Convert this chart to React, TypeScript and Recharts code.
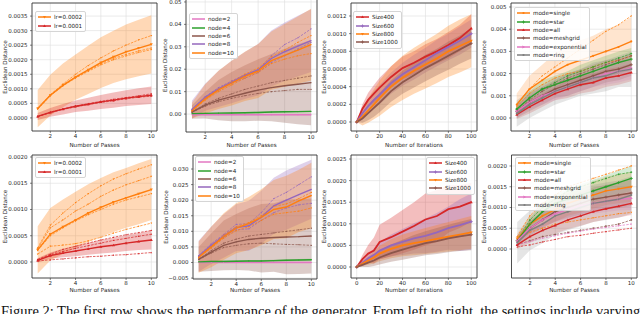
import React from 'react';
import { ComposedChart, Line, Area, XAxis, YAxis, CartesianGrid, Legend, ReferenceArea } from 'recharts';

const FONT = '"DejaVu Sans", sans-serif';

const passes = [1, 2, 3, 4, 5, 6, 7, 8, 9, 10];
const iterations = [0, 5, 10, 15, 20, 30, 40, 50, 60, 70, 80, 90, 100];
const passTicks = [2, 4, 6, 8, 10];
const iterTicks = [0, 20, 40, 60, 80, 100];

// ---- row 1 ----
const lrTopHighMean = [0.00032, 0.00078, 0.00112, 0.0014, 0.00165, 0.0019, 0.0021, 0.00227, 0.0024, 0.00253];
const lrTopHighSpread = [0.00064, 0.0007, 0.00075, 0.00078, 0.00083, 0.00087, 0.0009, 0.00094, 0.00097, 0.001];
const lrTopHighRuns = [
  [0.00033, 0.0008, 0.00116, 0.0015, 0.0018, 0.00206, 0.0023, 0.0025, 0.00268, 0.00283],
  [0.0003, 0.00076, 0.0011, 0.00137, 0.0016, 0.00182, 0.002, 0.00213, 0.00225, 0.00235],
  [0.00031, 0.00077, 0.00113, 0.0014, 0.00163, 0.00186, 0.00205, 0.00218, 0.0023, 0.0024],
];
const lrTopLowMean = [0.00005, 0.00019, 0.0003, 0.0004, 0.00047, 0.00055, 0.00061, 0.00068, 0.00073, 0.00078];
const lrTopLowSpread = [0.00012, 0.00015, 0.00018, 0.0002, 0.00022, 0.00024, 0.00026, 0.00027, 0.00029, 0.0003];
const lrTopLowRuns = [
  [0.00005, 0.0002, 0.00031, 0.00041, 0.00049, 0.00057, 0.00064, 0.0007, 0.00076, 0.00083],
  [0.00004, 0.00018, 0.00029, 0.00038, 0.00046, 0.00053, 0.00059, 0.00066, 0.00071, 0.00075],
];

const node2TopMean = [-0.0003, -0.0003, -0.0003, -0.0003, -0.0003, -0.0003, -0.0003, -0.0003, -0.0003, -0.0003];
const node2TopSpread = [0.0002, 0.0002, 0.0002, 0.0002, 0.0002, 0.0002, 0.0002, 0.0002, 0.0002, 0.0002];
const node4TopMean = [0.0002, 0.0003, 0.0004, 0.0005, 0.0006, 0.0007, 0.0009, 0.001, 0.0011, 0.0012];
const node4TopSpread = [0.0003, 0.0003, 0.0003, 0.0003, 0.0003, 0.0003, 0.0003, 0.0003, 0.0003, 0.0003];
const node6TopMean = [0.0009, 0.004, 0.0062, 0.0078, 0.0093, 0.0107, 0.0118, 0.0126, 0.0133, 0.014];
const node6TopSpread = [0.003, 0.006, 0.009, 0.011, 0.0125, 0.0137, 0.015, 0.0165, 0.0178, 0.019];
const node6TopRuns = [
  [0.001, 0.0045, 0.007, 0.009, 0.011, 0.0125, 0.014, 0.015, 0.016, 0.017],
  [0.0008, 0.0035, 0.0055, 0.007, 0.0082, 0.0092, 0.01, 0.0105, 0.011, 0.011],
];
const node8TopMean = [0.002, 0.0075, 0.0112, 0.0143, 0.0172, 0.0198, 0.0248, 0.0278, 0.0303, 0.0328];
const node8TopSpread = [0.004, 0.006, 0.008, 0.0095, 0.0105, 0.0115, 0.0125, 0.013, 0.0135, 0.014];
const node8TopRuns = [
  [0.0022, 0.0078, 0.0118, 0.0148, 0.0175, 0.0195, 0.026, 0.031, 0.034, 0.038],
  [0.0019, 0.007, 0.0108, 0.0138, 0.016, 0.0185, 0.023, 0.026, 0.029, 0.032],
];
const node10TopMean = [0.0015, 0.0068, 0.0108, 0.0138, 0.0168, 0.0192, 0.0238, 0.0262, 0.0285, 0.031];
const node10TopSpread = [0.0035, 0.0065, 0.0085, 0.01, 0.011, 0.012, 0.013, 0.014, 0.015, 0.016];
const node10TopRuns = [
  [0.0016, 0.0072, 0.0112, 0.0145, 0.0178, 0.0205, 0.0255, 0.0285, 0.032, 0.035],
  [0.0013, 0.0062, 0.01, 0.013, 0.016, 0.0185, 0.0225, 0.0245, 0.026, 0.027],
];

const size400TopMean = [0, 0.00015, 0.00025, 0.00032, 0.00039, 0.00051, 0.00061, 0.00067, 0.00074, 0.0008, 0.00087, 0.00095, 0.00106];
const size400TopSpread = [0, 0.00005, 0.00008, 0.0001, 0.00011, 0.00012, 0.00013, 0.00013, 0.00014, 0.00014, 0.00015, 0.00015, 0.00016];
const size600TopMean = [0, 0.0001, 0.00018, 0.00025, 0.00031, 0.00044, 0.00054, 0.00062, 0.0007, 0.00078, 0.00085, 0.00092, 0.001];
const size600TopSpread = [0, 0.00005, 0.00008, 0.0001, 0.00011, 0.00012, 0.00013, 0.00014, 0.00014, 0.00015, 0.00015, 0.00016, 0.00016];
const size800TopMean = [0, 0.00006, 0.00013, 0.0002, 0.00027, 0.0004, 0.0005, 0.00058, 0.00065, 0.00072, 0.0008, 0.00086, 0.00092];
const size800TopSpread = [0, 0.0001, 0.00014, 0.00017, 0.0002, 0.00023, 0.00025, 0.00026, 0.00027, 0.00028, 0.00029, 0.0003, 0.0003];
const size1000TopMean = [0, 0.00004, 0.0001, 0.00016, 0.00022, 0.00035, 0.00045, 0.00053, 0.00061, 0.00068, 0.00075, 0.00082, 0.00089];
const size1000TopSpread = [0, 0.00005, 0.00008, 0.0001, 0.00011, 0.00012, 0.00013, 0.00014, 0.00015, 0.00015, 0.00016, 0.00016, 0.00017];

const singleTopMean = [0.0006, 0.0013, 0.0017, 0.0021, 0.0024, 0.0026, 0.0028, 0.003, 0.0032, 0.00345];
const singleTopSpread = [0.0005, 0.0006, 0.0007, 0.0008, 0.0008, 0.0009, 0.0009, 0.001, 0.001, 0.0011];
const singleTopRuns = [
  [0.0006, 0.0013, 0.0019, 0.0023, 0.0027, 0.0031, 0.0035, 0.0039, 0.0042, 0.0046],
  [0.0005, 0.0011, 0.0015, 0.0018, 0.002, 0.0021, 0.0023, 0.0025, 0.0026, 0.0028],
];
const starTopMean = [0.0004, 0.0009, 0.0013, 0.0015, 0.0017, 0.0019, 0.0021, 0.0023, 0.0025, 0.00265];
const starTopSpread = [0.0003, 0.0003, 0.0004, 0.0004, 0.0004, 0.0005, 0.0005, 0.0005, 0.0005, 0.0005];
const starTopRuns = [[0.0004, 0.0009, 0.0013, 0.0016, 0.0019, 0.0021, 0.0023, 0.0025, 0.0027, 0.0029]];
const allTopMean = [0.00015, 0.0005, 0.0008, 0.0011, 0.0013, 0.0015, 0.0016, 0.0018, 0.0019, 0.00205];
const allTopSpread = [0.0002, 0.0003, 0.0003, 0.0003, 0.0004, 0.0004, 0.0004, 0.0004, 0.0004, 0.0004];
const meshTopMean = [0.0003, 0.0007, 0.001, 0.0013, 0.0015, 0.0017, 0.0019, 0.0021, 0.0022, 0.0024];
const meshTopSpread = [0.0003, 0.0004, 0.0004, 0.0004, 0.0005, 0.0005, 0.0005, 0.0005, 0.0005, 0.0005];
const meshTopRuns = [[0.0003, 0.0008, 0.0012, 0.0015, 0.0018, 0.002, 0.0022, 0.0024, 0.0026, 0.0028]];
const expTopMean = [0.0003, 0.0007, 0.001, 0.0012, 0.0014, 0.0016, 0.0018, 0.002, 0.0021, 0.00225];
const expTopSpread = [0.0003, 0.0003, 0.0004, 0.0004, 0.0004, 0.0004, 0.0004, 0.0005, 0.0005, 0.0005];
const ringTopMean = [0.0002, 0.0006, 0.0009, 0.0012, 0.0014, 0.0016, 0.0018, 0.0019, 0.0021, 0.0022];
const ringTopSpread = [0.0006, 0.0006, 0.0006, 0.0006, 0.0006, 0.0006, 0.0007, 0.0007, 0.0007, 0.0008];

// ---- row 2 ----
const lrBotHighMean = [0.00023, 0.00053, 0.00067, 0.0008, 0.00093, 0.00104, 0.00114, 0.00122, 0.0013, 0.00138];
const lrBotHighSpread = [0.00045, 0.0005, 0.00052, 0.00054, 0.00055, 0.00056, 0.00057, 0.00057, 0.00058, 0.00058];
const lrBotHighRuns = [
  [0.00027, 0.0007, 0.00093, 0.00113, 0.0013, 0.00145, 0.00158, 0.00168, 0.00177, 0.00185],
  [0.00025, 0.00065, 0.0008, 0.00097, 0.0011, 0.00125, 0.00137, 0.00147, 0.00155, 0.00163],
  [0.00022, 0.0005, 0.00065, 0.00078, 0.0009, 0.001, 0.0011, 0.00118, 0.00124, 0.0013],
  [0.00015, 0.0003, 0.00032, 0.00035, 0.0004, 0.00047, 0.00055, 0.00062, 0.00068, 0.00074],
];
const lrBotLowMean = [0.00003, 0.00012, 0.00017, 0.00021, 0.00025, 0.00029, 0.00032, 0.00036, 0.00039, 0.00042];
const lrBotLowSpread = [0.00004, 0.00006, 0.00008, 0.0001, 0.00011, 0.00013, 0.00014, 0.00015, 0.00016, 0.00018];
const lrBotLowRuns = [
  [0.00005, 0.00015, 0.00024, 0.0003, 0.00036, 0.00042, 0.00047, 0.00052, 0.00056, 0.0006],
  [0.00004, 0.00013, 0.0002, 0.00026, 0.00031, 0.00036, 0.00041, 0.00045, 0.00049, 0.00053],
  [0.00002, 0.00004, 0.00006, 0.00008, 0.0001, 0.00011, 0.00013, 0.00014, 0.00016, 0.00018],
];

const node2BotMean = [0, 0, 0, 0, 0, 0, 0, 0, 0, 0];
const node2BotSpread = [0.0002, 0.0002, 0.0002, 0.0002, 0.0002, 0.0002, 0.0002, 0.0002, 0.0002, 0.0002];
const node4BotMean = [0.0002, 0.0003, 0.0003, 0.0004, 0.0005, 0.0005, 0.0006, 0.0007, 0.0008, 0.0009];
const node4BotSpread = [0.0003, 0.0003, 0.0003, 0.0003, 0.0003, 0.0003, 0.0003, 0.0003, 0.0003, 0.0003];
const node6BotMean = [0.001, 0.0033, 0.0055, 0.0066, 0.0074, 0.0078, 0.008, 0.0082, 0.0083, 0.0085];
const node6BotSpread = [0.004, 0.006, 0.008, 0.009, 0.01, 0.011, 0.011, 0.012, 0.012, 0.012];
const node6BotRuns = [
  [0.0011, 0.0038, 0.0062, 0.0075, 0.0085, 0.009, 0.0095, 0.01, 0.0105, 0.011],
  [0.0009, 0.003, 0.0048, 0.0055, 0.006, 0.0062, 0.006, 0.0058, 0.0057, 0.0055],
];
const node8BotMean = [0.002, 0.0055, 0.0085, 0.0112, 0.0118, 0.0145, 0.0182, 0.02, 0.0218, 0.0235];
const node8BotSpread = [0.005, 0.006, 0.007, 0.0075, 0.008, 0.0085, 0.009, 0.0095, 0.0095, 0.0095];
const node8BotRuns = [
  [0.0022, 0.006, 0.009, 0.0122, 0.0125, 0.016, 0.0205, 0.0225, 0.025, 0.0275],
  [0.0018, 0.005, 0.008, 0.0105, 0.0108, 0.0135, 0.016, 0.0175, 0.0185, 0.019],
];
const node10BotMean = [0.0017, 0.005, 0.0083, 0.011, 0.0125, 0.0145, 0.017, 0.0178, 0.0198, 0.0215];
const node10BotSpread = [0.005, 0.0065, 0.0075, 0.008, 0.0085, 0.009, 0.0095, 0.01, 0.01, 0.0105];
const node10BotRuns = [
  [0.0018, 0.0052, 0.0088, 0.0115, 0.0128, 0.015, 0.018, 0.0188, 0.0205, 0.0225],
  [0.0015, 0.0046, 0.0078, 0.0102, 0.0115, 0.0135, 0.0155, 0.016, 0.0165, 0.0175],
];

const size400BotMean = [0, 0.00018, 0.00031, 0.00038, 0.00058, 0.00069, 0.00082, 0.00095, 0.0011, 0.00118, 0.00134, 0.0014, 0.0015];
const size400BotSpread = [0, 0.0001, 0.0002, 0.0003, 0.0004, 0.00045, 0.0005, 0.00055, 0.0006, 0.0006, 0.00055, 0.0005, 0.00045];
const size600BotMean = [0, 0.0001, 0.0002, 0.00028, 0.00038, 0.0005, 0.00058, 0.00066, 0.00072, 0.0008, 0.0009, 0.00097, 0.00105];
const size600BotSpread = [0, 0.00005, 0.0001, 0.00015, 0.0002, 0.00025, 0.0003, 0.00035, 0.0004, 0.00045, 0.0005, 0.0006, 0.00065];
const size800BotMean = [0, 0.00008, 0.00015, 0.00022, 0.00031, 0.00042, 0.0005, 0.00055, 0.0006, 0.00065, 0.0007, 0.00075, 0.0008];
const size800BotSpread = [0, 0.00006, 0.0001, 0.00014, 0.00018, 0.00022, 0.00025, 0.00028, 0.0003, 0.00032, 0.00034, 0.00036, 0.00038];
const size1000BotMean = [0, 0.00005, 0.0001, 0.00015, 0.00022, 0.00032, 0.0004, 0.00048, 0.00055, 0.0006, 0.00066, 0.00071, 0.00075];
const size1000BotSpread = [0, 0.00005, 0.0001, 0.00013, 0.00016, 0.0002, 0.00023, 0.00026, 0.00028, 0.0003, 0.00032, 0.00034, 0.00036];

const singleBotMean = [0.00025, 0.0006, 0.0008, 0.00095, 0.0011, 0.0012, 0.0013, 0.0014, 0.00145, 0.0015];
const singleBotSpread = [0.00012, 0.0002, 0.00025, 0.0003, 0.0003, 0.00032, 0.00033, 0.00034, 0.00035, 0.00036];
const singleBotRuns = [
  [0.0003, 0.0008, 0.0011, 0.0013, 0.0015, 0.0016, 0.0017, 0.0018, 0.0019, 0.002],
  [0.0002, 0.0004, 0.0005, 0.0006, 0.00065, 0.0007, 0.00075, 0.0008, 0.00085, 0.00088],
];
const starBotMean = [0.0002, 0.0006, 0.0009, 0.0011, 0.0012, 0.0013, 0.0014, 0.0015, 0.0016, 0.0017];
const starBotSpread = [0.0001, 0.00015, 0.0002, 0.00022, 0.00024, 0.00026, 0.00027, 0.00028, 0.00029, 0.0003];
const starBotRuns = [[0.0002, 0.0007, 0.001, 0.0012, 0.0014, 0.0015, 0.0016, 0.0017, 0.0018, 0.00185]];
const allBotMean = [0.0001, 0.0003, 0.00045, 0.00057, 0.0007, 0.0008, 0.0009, 0.00097, 0.00103, 0.0011];
const allBotSpread = [0.0001, 0.00015, 0.00018, 0.0002, 0.00022, 0.00024, 0.00025, 0.00026, 0.00027, 0.00028];
const allBotRuns = [[0.00005, 0.0001, 0.00017, 0.00023, 0.0003, 0.00033, 0.00038, 0.00042, 0.00046, 0.0005]];
const meshBotMean = [0.0002, 0.0005, 0.0007, 0.0009, 0.001, 0.0011, 0.0012, 0.00125, 0.0013, 0.00135];
const meshBotSpread = [0.00012, 0.00018, 0.0002, 0.00023, 0.00025, 0.00027, 0.00028, 0.0003, 0.00031, 0.00032];
const meshBotRuns = [[0.0001, 0.0002, 0.0003, 0.00035, 0.0004, 0.00045, 0.0005, 0.00055, 0.0006, 0.0007]];
const expBotMean = [0.0002, 0.0005, 0.0007, 0.00085, 0.00095, 0.00105, 0.0011, 0.00115, 0.0012, 0.00122];
const expBotSpread = [0.0001, 0.00015, 0.00018, 0.0002, 0.00022, 0.00024, 0.00025, 0.00026, 0.00027, 0.00028];
const expBotRuns = [[0.0001, 0.00018, 0.00026, 0.00032, 0.00038, 0.00043, 0.00048, 0.00052, 0.00056, 0.0006]];
const ringBotMean = [0.00015, 0.00045, 0.0006, 0.0008, 0.0009, 0.001, 0.0011, 0.00115, 0.0012, 0.0013];
const ringBotSpread = [0.0005, 0.00048, 0.00046, 0.00045, 0.00045, 0.00045, 0.00045, 0.00045, 0.00045, 0.00045];

const lrTicksTop = [0, 0.0005, 0.001, 0.0015, 0.002, 0.0025, 0.003, 0.0035];
const nodeTicksTop = [0, 0.01, 0.02, 0.03, 0.04, 0.05];
const sizeTicksTop = [0, 0.0002, 0.0004, 0.0006, 0.0008, 0.001, 0.0012];
const modeTicksTop = [0, 0.001, 0.002, 0.003, 0.004, 0.005];
const lrTicksBot = [0, 0.0005, 0.001, 0.0015, 0.002];
const nodeTicksBot = [-0.005, 0, 0.005, 0.01, 0.015, 0.02, 0.025, 0.03];
const sizeTicksBot = [0, 0.0005, 0.001, 0.0015, 0.002, 0.0025];
const modeTicksBot = [0, 0.0005, 0.001, 0.0015, 0.002];

const caption = 'Figure 2: The first row shows the performance of the generator. From left to right, the settings include varying';

const ORANGE = '#ff7f0e';
const RED = '#d62728';
const GREEN = '#2ca02c';
const BROWN = '#8c564b';
const PURPLE = '#9467bd';
const PINK = '#e377c2';
const GRAY = '#7f7f7f';

type Series = { name: string; color: string; marker: string; mean: number[]; spread: number[]; runs?: number[][] };
type PanelCfg = {
  left: number; top: number; width: number; height: number;
  frame: { l: number; r: number; t: number; b: number };
  x: number[]; xDomain: [number, number]; xTicks: number[]; xLabel: string; xLabelY: number;
  yDomain: [number, number]; yTicks: number[]; digits: number; yLabelX: number;
  legend: { x: number; y: number }; series: Series[]; ends?: boolean; bandOpacity: number; lineMarker?: boolean;
};

function marker(shape: string, cx: number, cy: number, s: number, color: string, key: string) {
  switch (shape) {
    case 'v':
      return <polygon key={key} points={`${cx - s},${cy - s * 0.7} ${cx + s},${cy - s * 0.7} ${cx},${cy + s}`} fill={color} />;
    case '^':
      return <polygon key={key} points={`${cx - s},${cy + s * 0.7} ${cx + s},${cy + s * 0.7} ${cx},${cy - s}`} fill={color} />;
    case '>':
      return <polygon key={key} points={`${cx - s * 0.7},${cy - s} ${cx - s * 0.7},${cy + s} ${cx + s},${cy}`} fill={color} />;
    case '+':
      return <path key={key} d={`M${cx - s},${cy}H${cx + s}M${cx},${cy - s}V${cy + s}`} stroke={color} strokeWidth={0.8} />;
    case 'none':
      return <g key={key} />;
    default:
      return <circle key={key} cx={cx} cy={cy} r={s * 0.7} fill={color} />;
  }
}

const dotFn = (shape: string, color: string, s: number, ends: boolean, n: number) => (props: any) => {
  const { cx, cy, index } = props;
  if (cx == null || cy == null || (ends && index !== 0 && index !== n - 1)) return <g key={`e${index}`} />;
  return marker(shape, cx, cy, s, color, `d${index}`);
};

function LegendBox({ series, showMarker }: { series: Series[]; showMarker: boolean }) {
  return (
    <div
      style={{
        background: 'rgba(255,255,255,0.85)',
        border: '0.8px solid #d5d5d5',
        borderRadius: 2,
        padding: '1px 3px 1px 2px',
        fontFamily: FONT,
        fontSize: 5.6,
        color: '#222',
      }}
    >
      {series.map((s) => (
        <div key={s.name} style={{ display: 'flex', alignItems: 'center', height: 8.4, whiteSpace: 'nowrap' }}>
          <svg width={13} height={6} style={{ display: 'block' }}>
            <line x1={0} y1={3} x2={13} y2={3} stroke={s.color} strokeWidth={1.5} />
            {showMarker ? marker(s.marker, 6.5, 3, 1.6, s.color, 'm') : null}
          </svg>
          <span style={{ marginLeft: 3 }}>{s.name}</span>
        </div>
      ))}
    </div>
  );
}

function Panel({ p }: { p: PanelCfg }) {
  const yW = p.frame.l - p.left;
  const xH = p.top + p.height - p.frame.b;
  const margin = { top: p.frame.t - p.top, right: p.left + p.width - p.frame.r, bottom: 0, left: 0 };
  const rows = p.x.map((xv, i) => {
    const row: any = { x: xv };
    p.series.forEach((s, k) => {
      row['m' + k] = s.mean[i];
      row['b' + k] = [s.mean[i] - s.spread[i], s.mean[i] + s.spread[i]];
      (s.runs || []).forEach((r, j) => {
        row[`r${k}_${j}`] = r[i];
      });
    });
    return row;
  });
  const xMid = (p.frame.l + p.frame.r) / 2 - p.left;
  const yMid = (p.frame.t + p.frame.b) / 2 - p.top;
  const yLx = p.yLabelX - p.left;
  const fmt = (v: number) => (v < 0 ? '\u2212' : '') + Math.abs(v).toFixed(p.digits);
  const tickStyle = { fontSize: 5.5, fill: '#262626', fontFamily: FONT };
  const n = p.x.length;
  const mk = p.lineMarker !== false;

  return (
    <div style={{ position: 'absolute', left: p.left, top: p.top, width: p.width, height: p.height }}>
      <ComposedChart width={p.width} height={p.height} data={rows} margin={margin}>
        <CartesianGrid stroke="#dedede" strokeWidth={0.6} />
        <XAxis
          dataKey="x"
          type="number"
          domain={p.xDomain}
          ticks={p.xTicks}
          interval={0}
          allowDataOverflow
          height={xH}
          axisLine={false}
          tickSize={2}
          tickMargin={1.5}
          tickLine={{ stroke: '#333', strokeWidth: 0.6 }}
          tick={tickStyle}
          label={() => (
            <text x={xMid} y={p.xLabelY - p.top} textAnchor="middle" fontSize={5.6} fontFamily={FONT} fill="#262626">
              {p.xLabel}
            </text>
          )}
        />
        <YAxis
          type="number"
          domain={p.yDomain}
          ticks={p.yTicks}
          interval={0}
          allowDataOverflow
          width={yW}
          axisLine={false}
          tickSize={2}
          tickMargin={2.5}
          tickLine={{ stroke: '#333', strokeWidth: 0.6 }}
          tick={tickStyle}
          tickFormatter={fmt}
          label={() => (
            <text
              x={yLx}
              y={yMid}
              transform={`rotate(-90 ${yLx} ${yMid})`}
              textAnchor="middle"
              dominantBaseline="central"
              fontSize={5.6}
              fontFamily={FONT}
              fill="#262626"
            >
              Euclidean Distance
            </text>
          )}
        />
        {p.series.map((s, k) => (
          <Area
            key={'b' + k}
            dataKey={'b' + k}
            type="linear"
            stroke="none"
            fill={s.color}
            fillOpacity={p.bandOpacity}
            isAnimationActive={false}
            dot={false}
            activeDot={false}
          />
        ))}
        {p.series.map((s, k) =>
          (s.runs || []).map((_, j) => (
            <Line
              key={`r${k}_${j}`}
              dataKey={`r${k}_${j}`}
              type="linear"
              stroke={s.color}
              strokeWidth={0.7}
              strokeDasharray="2.5 1.2"
              dot={dotFn(mk ? s.marker : '.', s.color, 0.9, false, n)}
              activeDot={false}
              isAnimationActive={false}
            />
          ))
        )}
        {p.series.map((s, k) => (
          <Line
            key={'m' + k}
            dataKey={'m' + k}
            type="linear"
            stroke={s.color}
            strokeWidth={p.ends ? 1.8 : 1.4}
            dot={dotFn(mk ? s.marker : '.', s.color, mk ? 1.5 : 0.8, !!p.ends, n)}
            activeDot={false}
            isAnimationActive={false}
          />
        ))}
        <ReferenceArea
          x1={p.xDomain[0]}
          x2={p.xDomain[1]}
          y1={p.yDomain[0]}
          y2={p.yDomain[1]}
          fill="none"
          fillOpacity={0}
          stroke="#262626"
          strokeWidth={0.8}
          ifOverflow="visible"
        />
        <Legend
          layout="vertical"
          align="center"
          verticalAlign="middle"
          wrapperStyle={{ left: p.legend.x - p.left, top: p.legend.y - p.top, width: 'auto' }}
          content={() => <LegendBox series={p.series} showMarker={mk} />}
        />
      </ComposedChart>
    </div>
  );
}

const ROW1 = -10;
const ROW2 = 145;

const panels: PanelCfg[] = [
  {
    left: 0, top: ROW1, width: 160, height: 160,
    frame: { l: 32, r: 157, t: 3, b: 131 },
    x: passes, xDomain: [0.55, 10.45], xTicks: passTicks, xLabel: 'Number of Passes', xLabelY: 147,
    yDomain: [-0.00045, 0.00395], yTicks: lrTicksTop, digits: 4, yLabelX: 5,
    legend: { x: 35, y: 11 }, bandOpacity: 0.3,
    series: [
      { name: 'lr=0.0002', color: ORANGE, marker: 'v', mean: lrTopHighMean, spread: lrTopHighSpread, runs: lrTopHighRuns },
      { name: 'lr=0.0001', color: RED, marker: '^', mean: lrTopLowMean, spread: lrTopLowSpread, runs: lrTopLowRuns },
    ],
  },
  {
    left: 160, top: ROW1, width: 160, height: 160,
    frame: { l: 186, r: 317, t: -1.4, b: 132 },
    x: passes, xDomain: [0.55, 10.45], xTicks: passTicks, xLabel: 'Number of Passes', xLabelY: 147,
    yDomain: [-0.008, 0.0515], yTicks: nodeTicksTop, digits: 2, yLabelX: 165,
    legend: { x: 189, y: 13 }, bandOpacity: 0.3, lineMarker: false,
    series: [
      { name: 'node=2', color: PINK, marker: '.', mean: node2TopMean, spread: node2TopSpread },
      { name: 'node=4', color: GREEN, marker: '.', mean: node4TopMean, spread: node4TopSpread },
      { name: 'node=6', color: BROWN, marker: '.', mean: node6TopMean, spread: node6TopSpread, runs: node6TopRuns },
      { name: 'node=8', color: PURPLE, marker: '.', mean: node8TopMean, spread: node8TopSpread, runs: node8TopRuns },
      { name: 'node=10', color: ORANGE, marker: '.', mean: node10TopMean, spread: node10TopSpread, runs: node10TopRuns },
    ],
  },
  {
    left: 320, top: ROW1, width: 160, height: 160,
    frame: { l: 351, r: 477, t: 3, b: 131 },
    x: iterations, xDomain: [-5, 105], xTicks: iterTicks, xLabel: 'Number of Iterations', xLabelY: 147,
    yDomain: [-0.000102, 0.001347], yTicks: sizeTicksTop, digits: 4, yLabelX: 324,
    legend: { x: 353, y: 11 }, bandOpacity: 0.3, ends: true,
    series: [
      { name: 'Size400', color: RED, marker: '^', mean: size400TopMean, spread: size400TopSpread },
      { name: 'Size600', color: PURPLE, marker: '+', mean: size600TopMean, spread: size600TopSpread },
      { name: 'Size800', color: ORANGE, marker: 'v', mean: size800TopMean, spread: size800TopSpread },
      { name: 'Size1000', color: BROWN, marker: '+', mean: size1000TopMean, spread: size1000TopSpread },
    ],
  },
  {
    left: 480, top: ROW1, width: 160, height: 160,
    frame: { l: 511, r: 637, t: 3, b: 131 },
    x: passes, xDomain: [0.55, 10.45], xTicks: passTicks, xLabel: 'Number of Passes', xLabelY: 147,
    yDomain: [-0.000586, 0.00518], yTicks: modeTicksTop, digits: 3, yLabelX: 484,
    legend: { x: 514, y: 7 }, bandOpacity: 0.2,
    series: [
      { name: 'mode=single', color: ORANGE, marker: '.', mean: singleTopMean, spread: singleTopSpread, runs: singleTopRuns },
      { name: 'mode=star', color: GREEN, marker: '+', mean: starTopMean, spread: starTopSpread, runs: starTopRuns },
      { name: 'mode=all', color: RED, marker: '^', mean: allTopMean, spread: allTopSpread },
      { name: 'mode=meshgrid', color: BROWN, marker: '+', mean: meshTopMean, spread: meshTopSpread, runs: meshTopRuns },
      { name: 'mode=exponential', color: PINK, marker: '>', mean: expTopMean, spread: expTopSpread },
      { name: 'mode=ring', color: GRAY, marker: '.', mean: ringTopMean, spread: ringTopSpread },
    ],
  },
  {
    left: 0, top: ROW2, width: 160, height: 155,
    frame: { l: 32, r: 157, t: 155, b: 278 },
    x: passes, xDomain: [0.55, 10.45], xTicks: passTicks, xLabel: 'Number of Passes', xLabelY: 292,
    yDomain: [-0.000305, 0.002038], yTicks: lrTicksBot, digits: 4, yLabelX: 5,
    legend: { x: 35, y: 157 }, bandOpacity: 0.3,
    series: [
      { name: 'lr=0.0002', color: ORANGE, marker: 'v', mean: lrBotHighMean, spread: lrBotHighSpread, runs: lrBotHighRuns },
      { name: 'lr=0.0001', color: RED, marker: '^', mean: lrBotLowMean, spread: lrBotLowSpread, runs: lrBotLowRuns },
    ],
  },
  {
    left: 160, top: ROW2, width: 160, height: 155,
    frame: { l: 193, r: 317, t: 155, b: 279 },
    x: passes, xDomain: [0.55, 10.45], xTicks: passTicks, xLabel: 'Number of Passes', xLabelY: 292,
    yDomain: [-0.0053, 0.0345], yTicks: nodeTicksBot, digits: 3, yLabelX: 166,
    legend: { x: 195, y: 156 }, bandOpacity: 0.3, lineMarker: false,
    series: [
      { name: 'node=2', color: PINK, marker: '.', mean: node2BotMean, spread: node2BotSpread },
      { name: 'node=4', color: GREEN, marker: '.', mean: node4BotMean, spread: node4BotSpread },
      { name: 'node=6', color: BROWN, marker: '.', mean: node6BotMean, spread: node6BotSpread, runs: node6BotRuns },
      { name: 'node=8', color: PURPLE, marker: '.', mean: node8BotMean, spread: node8BotSpread, runs: node8BotRuns },
      { name: 'node=10', color: ORANGE, marker: '.', mean: node10BotMean, spread: node10BotSpread, runs: node10BotRuns },
    ],
  },
  {
    left: 320, top: ROW2, width: 160, height: 155,
    frame: { l: 351, r: 477, t: 155, b: 278 },
    x: iterations, xDomain: [-5, 105], xTicks: iterTicks, xLabel: 'Number of Iterations', xLabelY: 292,
    yDomain: [-0.000255, 0.002593], yTicks: sizeTicksBot, digits: 4, yLabelX: 324,
    legend: { x: 426, y: 157 }, bandOpacity: 0.3, ends: true,
    series: [
      { name: 'Size400', color: RED, marker: '^', mean: size400BotMean, spread: size400BotSpread },
      { name: 'Size600', color: PURPLE, marker: '+', mean: size600BotMean, spread: size600BotSpread },
      { name: 'Size800', color: ORANGE, marker: 'v', mean: size800BotMean, spread: size800BotSpread },
      { name: 'Size1000', color: BROWN, marker: '+', mean: size1000BotMean, spread: size1000BotSpread },
    ],
  },
  {
    left: 480, top: ROW2, width: 160, height: 155,
    frame: { l: 511.5, r: 637, t: 155, b: 278 },
    x: passes, xDomain: [0.55, 10.45], xTicks: passTicks, xLabel: 'Number of Passes', xLabelY: 292,
    yDomain: [-0.000699, 0.002265], yTicks: modeTicksBot, digits: 4, yLabelX: 484,
    legend: { x: 515, y: 157 }, bandOpacity: 0.2,
    series: [
      { name: 'mode=single', color: ORANGE, marker: 'v', mean: singleBotMean, spread: singleBotSpread, runs: singleBotRuns },
      { name: 'mode=star', color: GREEN, marker: '+', mean: starBotMean, spread: starBotSpread, runs: starBotRuns },
      { name: 'mode=all', color: RED, marker: '^', mean: allBotMean, spread: allBotSpread, runs: allBotRuns },
      { name: 'mode=meshgrid', color: BROWN, marker: '+', mean: meshBotMean, spread: meshBotSpread, runs: meshBotRuns },
      { name: 'mode=exponential', color: PINK, marker: '>', mean: expBotMean, spread: expBotSpread, runs: expBotRuns },
      { name: 'mode=ring', color: GRAY, marker: '.', mean: ringBotMean, spread: ringBotSpread },
    ],
  },
];

export default function App() {
  return (
    <div style={{ position: 'absolute', left: 0, top: 0, width: 640, height: 314, overflow: 'hidden', background: '#fff' }}>
      {panels.map((p, i) => (
        <Panel key={i} p={p} />
      ))}
      <svg width={640} height={314} style={{ position: 'absolute', left: 0, top: 0, pointerEvents: 'none' }}>
        <text x={1} y={316} fontFamily='"Liberation Serif", serif' fontSize={14.5} fill="#111">
          {caption}
        </text>
      </svg>
    </div>
  );
}
